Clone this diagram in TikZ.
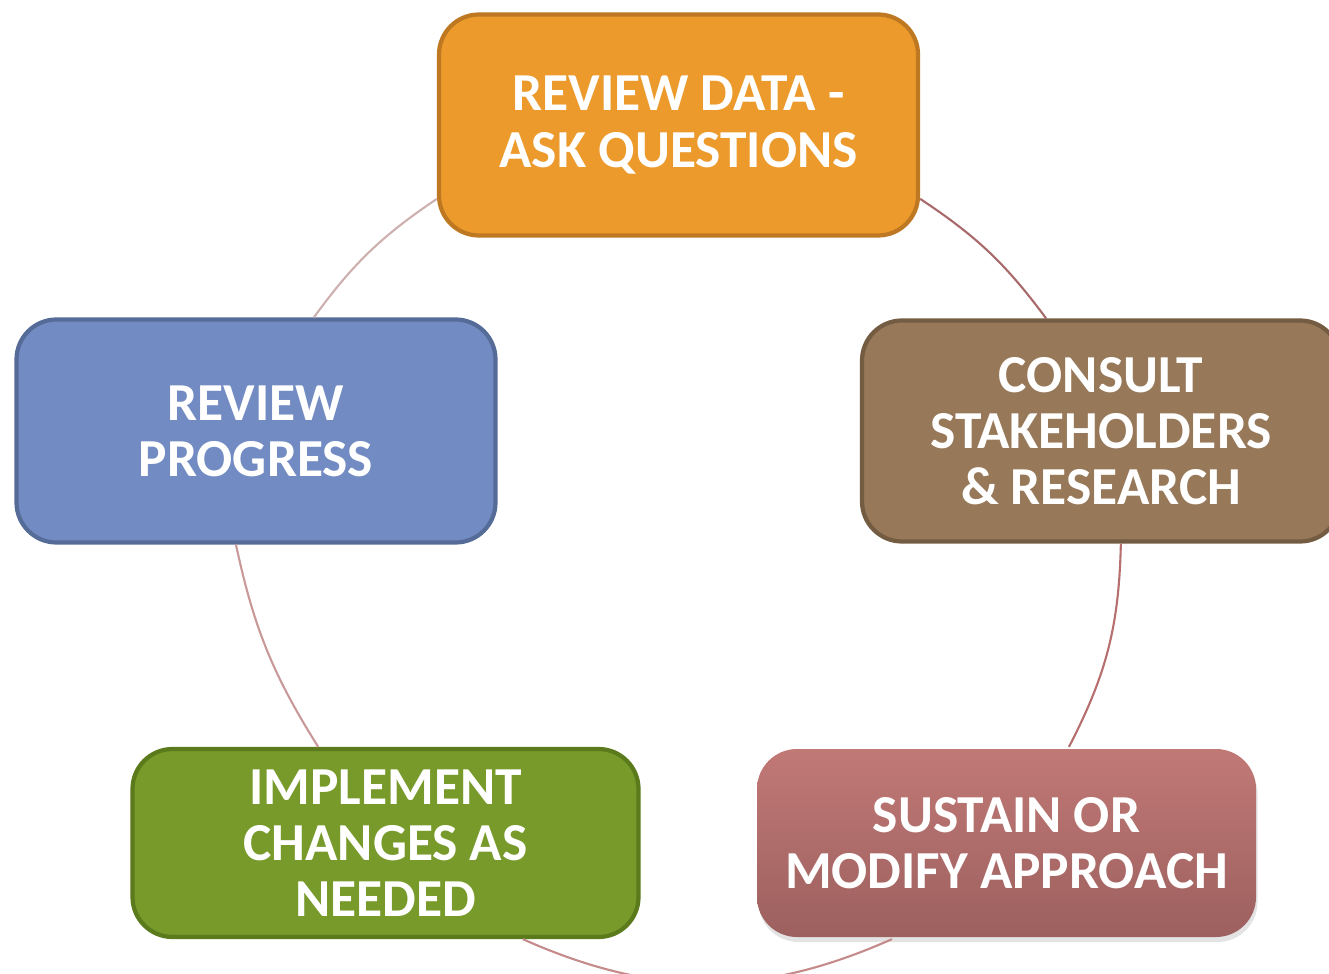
\documentclass[tikz,border=0pt]{standalone}
\usepackage{fontspec}
\setmainfont{Carlito}
\usepackage{xcolor}
\usepackage{tikz}
\usetikzlibrary{shadows}

\definecolor{dataorange}{HTML}{EC9A2C}
\definecolor{dataorangeline}{HTML}{BF7822}
\definecolor{consultbrown}{HTML}{977858}
\definecolor{consultbrownline}{HTML}{735C42}
\definecolor{progressblue}{HTML}{728BC2}
\definecolor{progressblueline}{HTML}{566C98}
\definecolor{implementgreen}{HTML}{779A2A}
\definecolor{implementgreenline}{HTML}{5A7A1C}
\definecolor{sustaintop}{HTML}{C17976}
\definecolor{sustainbottom}{HTML}{9C605E}

\begin{document}
\begin{tikzpicture}[
  stage/.style={rectangle, rounded corners=0.4cm, line width=1.2pt, inner sep=2pt,
    align=center, text=white, font=\bfseries\fontsize{15.2}{16}\selectfont},
  cycleline/.style={line width=0.6pt}]
\useasboundingbox (0,0) rectangle (13.29,9.73);
\node at (6.785,8.48) [stage, minimum width=4.79cm, minimum height=2.21cm, fill=dataorange, draw=dataorangeline] (reviewdata) {REVIEW DATA -\\ASK QUESTIONS};
\node at (11.01,5.42) [stage, minimum width=4.78cm, minimum height=2.21cm, fill=consultbrown, draw=consultbrownline] (consult) {CONSULT\\STAKEHOLDERS\\\& RESEARCH};
\node at (2.56,5.42) [stage, minimum width=4.79cm, minimum height=2.23cm, fill=progressblue, draw=progressblueline] (progress) {REVIEW\\PROGRESS};
\node at (3.855,1.30) [stage, minimum width=5.06cm, minimum height=1.88cm, fill=implementgreen, draw=implementgreenline] (implement) {IMPLEMENT\\CHANGES AS\\NEEDED};
\node at (10.065,1.30) [stage, minimum width=4.99cm, minimum height=1.88cm, top color=sustaintop, bottom color=sustainbottom,
  drop shadow={opacity=0.22, shadow xshift=0.015cm, shadow yshift=-0.05cm}] (sustain) {SUSTAIN OR\\MODIFY APPROACH};
% arcs of the cycle, box to box
\draw (reviewdata.197)[cycleline, color={rgb,255:red,205;green,176;blue,175}] to[bend right=10] (progress.63);
\draw (progress.260)[cycleline, color={rgb,255:red,201;green,153;blue,154}] to[bend right=10] (implement.125);
\draw (implement.-35)[cycleline, color={rgb,255:red,197;green,138;blue,138}] to[bend right=24] (sustain.220);
\draw (sustain.57)[cycleline, color={rgb,255:red,182;green,110;blue,110}] to[bend right=13] (consult.-80);
\draw (consult.116)[cycleline, color={rgb,255:red,168;green,106;blue,106}] to[bend right=10] (reviewdata.-17);
\end{tikzpicture}
\end{document}
